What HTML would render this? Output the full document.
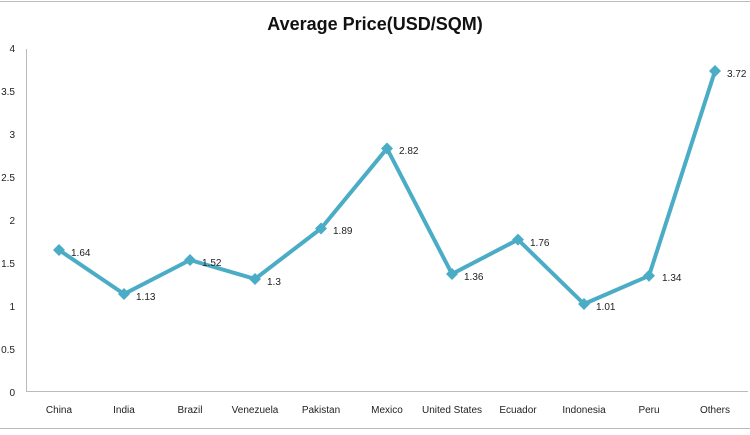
<!DOCTYPE html>
<html><head><style>body{margin:0;background:#fff}</style></head><body>
<svg width="750" height="430" xmlns="http://www.w3.org/2000/svg" font-family="Liberation Sans, sans-serif">
<rect x="0" y="0" width="750" height="430" fill="#fff"/>
<line x1="0" y1="1.5" x2="750" y2="1.5" stroke="#bbb" stroke-width="1"/>
<line x1="0" y1="428.5" x2="750" y2="428.5" stroke="#bbb" stroke-width="1"/>
<text x="375" y="30" text-anchor="middle" font-size="18" font-weight="bold" fill="#111">Average Price(USD/SQM)</text>
<line x1="26.5" y1="49" x2="26.5" y2="391" stroke="#bbb"/>
<line x1="26" y1="391.5" x2="748" y2="391.5" stroke="#bbb"/>
<g font-size="10" fill="#222" text-anchor="end">
<text x="15" y="52">4</text><text x="15" y="95">3.5</text><text x="15" y="138">3</text><text x="15" y="181">2.5</text><text x="15" y="224">2</text><text x="15" y="267">1.5</text><text x="15" y="310">1</text><text x="15" y="353">0.5</text><text x="15" y="396">0</text>
</g>
<g font-size="10" fill="#222" text-anchor="middle">
<text x="59" y="413">China</text><text x="124" y="413">India</text><text x="190" y="413">Brazil</text><text x="255" y="413">Venezuela</text><text x="321" y="413">Pakistan</text><text x="387" y="413">Mexico</text><text x="452" y="413">United States</text><text x="518" y="413">Ecuador</text><text x="584" y="413">Indonesia</text><text x="649" y="413">Peru</text><text x="715" y="413">Others</text>
</g>
<polyline fill="none" stroke="#4bacc6" stroke-width="4" stroke-linejoin="round" points="59,250 124,294 190,260 255,279 321,228.5 387,148.5 452,274 518,239.6 584,304 649,275.8 715,71"/>
<g fill="#4bacc6">
<path d="M59,244 l6,6 l-6,6 l-6,-6z"/><path d="M124,288 l6,6 l-6,6 l-6,-6z"/><path d="M190,254 l6,6 l-6,6 l-6,-6z"/><path d="M255,273 l6,6 l-6,6 l-6,-6z"/><path d="M321,222.5 l6,6 l-6,6 l-6,-6z"/><path d="M387,142.5 l6,6 l-6,6 l-6,-6z"/><path d="M452,268 l6,6 l-6,6 l-6,-6z"/><path d="M518,233.6 l6,6 l-6,6 l-6,-6z"/><path d="M584,298 l6,6 l-6,6 l-6,-6z"/><path d="M649,269.8 l6,6 l-6,6 l-6,-6z"/><path d="M715,65 l6,6 l-6,6 l-6,-6z"/>
</g>
<g font-size="10" fill="#222">
<text x="71" y="256">1.64</text><text x="136" y="300">1.13</text><text x="202" y="266">1.52</text><text x="267" y="285">1.3</text><text x="333" y="234">1.89</text><text x="399" y="154">2.82</text><text x="464" y="280">1.36</text><text x="530" y="246">1.76</text><text x="596" y="310">1.01</text><text x="662" y="281">1.34</text><text x="727" y="77">3.72</text>
</g>
</svg>
</body></html>
